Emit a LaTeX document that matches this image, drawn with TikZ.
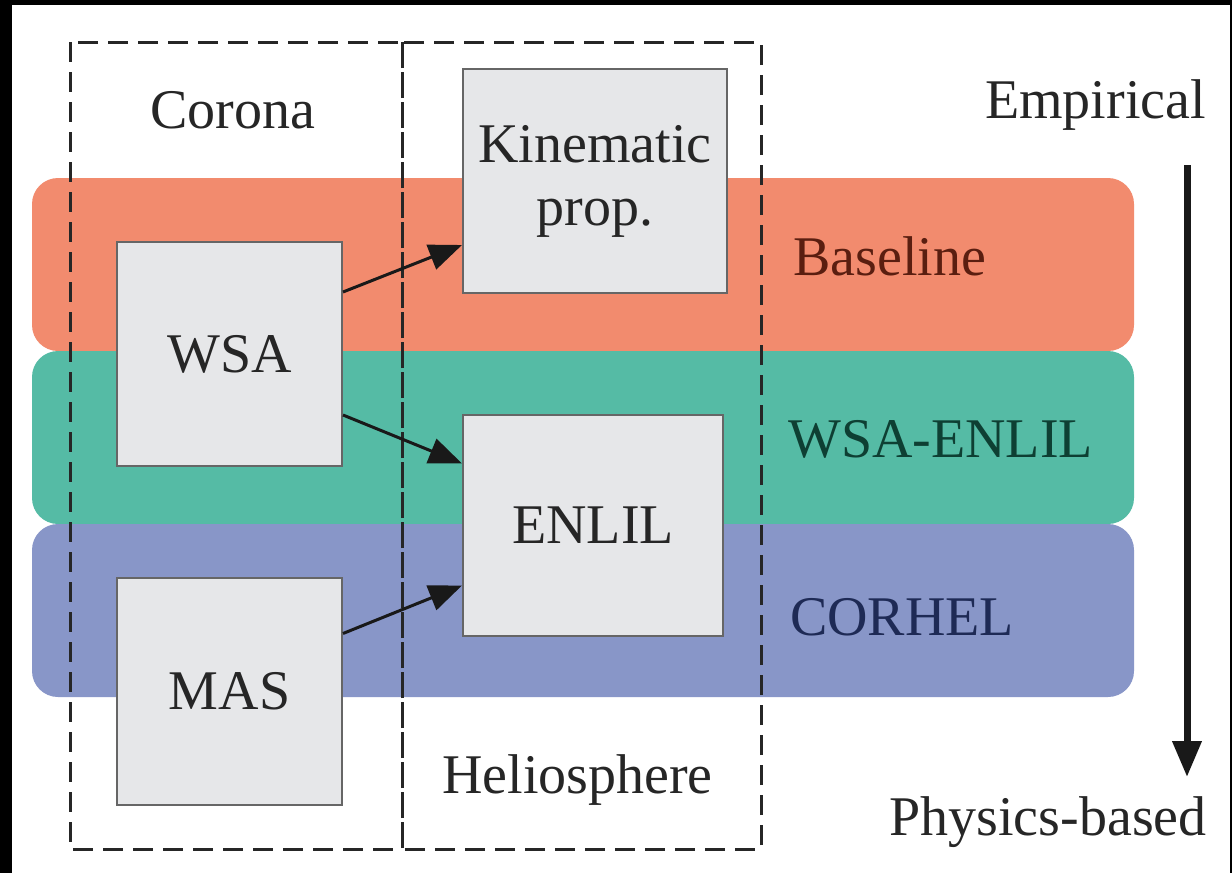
\documentclass[tikz,border=0pt]{standalone}
\usepackage{fontspec}
\setmainfont{Liberation Serif}
\usetikzlibrary{arrows.meta}
\definecolor{bandbase}{HTML}{F28B6E}
\definecolor{bandwsa}{HTML}{55BBA5}
\definecolor{bandcor}{HTML}{8896C8}
\definecolor{txtbase}{HTML}{5A1E10}
\definecolor{txtwsa}{HTML}{0E3F33}
\definecolor{txtcor}{HTML}{1E2A55}
\definecolor{boxfill}{HTML}{E6E7E9}
\begin{document}
\begin{tikzpicture}[x=1pt,y=-1pt,
	every node/.style={align=center,font=\fontsize{56}{63}\selectfont,inner sep=0pt,text=black!85},
	band/.style={rounded corners=26pt},
	region/.style={draw=black!85,line width=3pt,dash pattern=on 20pt off 10pt},
	modelbox/.style={draw=black!60,line width=2pt,fill=boxfill},
	feed/.style={-{Triangle[length=33pt,width=26pt]},line width=3pt,black!90}]
	\useasboundingbox (0,0) rectangle (1232,873);
	\fill[black] (0,0) rectangle (1232,873);
	\fill[white] (12,5) rectangle (1230,873);
	% model bands
	\fill[band,bandbase] (32,178) rectangle (1134,351);
	\fill[band,bandwsa] (32,351) rectangle (1134,524);
	\fill[band,bandcor] (32,524) rectangle (1134,697);
	\node[anchor=base west,text=txtbase] (baseline) at (793,275) {Baseline};
	\node[anchor=base west,text=txtwsa] (wsaenlil) at (788,457) {WSA-ENLIL};
	\node[anchor=base west,text=txtcor] (corhel) at (790,635) {CORHEL};
	% domains
	\draw[region] (70,42) rectangle (402,849);
	\draw[region] (402,42) rectangle (761,849);
	\node[anchor=base west] (corona) at (150,128) {Corona};
	\node[anchor=base west] (helio) at (442,793) {Heliosphere};
	% models
	\node[modelbox,minimum width=225pt,minimum height=224pt] (wsa) at (229.5,354) {WSA};
	\node[modelbox,minimum width=225pt,minimum height=227pt] (mas) at (229.5,691.5) {MAS};
	\node[modelbox,minimum width=264pt,minimum height=224pt] (kin) at (595,181) {Kinematic\\ prop.};
	\node[modelbox,minimum width=260pt,minimum height=221pt] (enlil) at (593,525.5) {ENLIL};
	\draw[feed] ([yshift=62pt]wsa.east) -- ([yshift=-64pt]kin.west);
	\draw[feed] ([yshift=-61pt]wsa.east) -- ([yshift=62pt]enlil.west);
	\draw[feed] ([yshift=58pt]mas.east) -- ([yshift=-60pt]enlil.west);
	% empirical to physics-based
	\node[anchor=base east] (emp) at (1206,118) {Empirical};
	\node[anchor=base east] (phys) at (1207,835) {Physics-based};
	\coordinate (top) at (1187,165);
	\coordinate (bot) at (1187,777);
	\draw[-{Triangle[length=36pt,width=28pt]},line width=7pt,black!90] (top) -- (bot);
\end{tikzpicture}
\end{document}
